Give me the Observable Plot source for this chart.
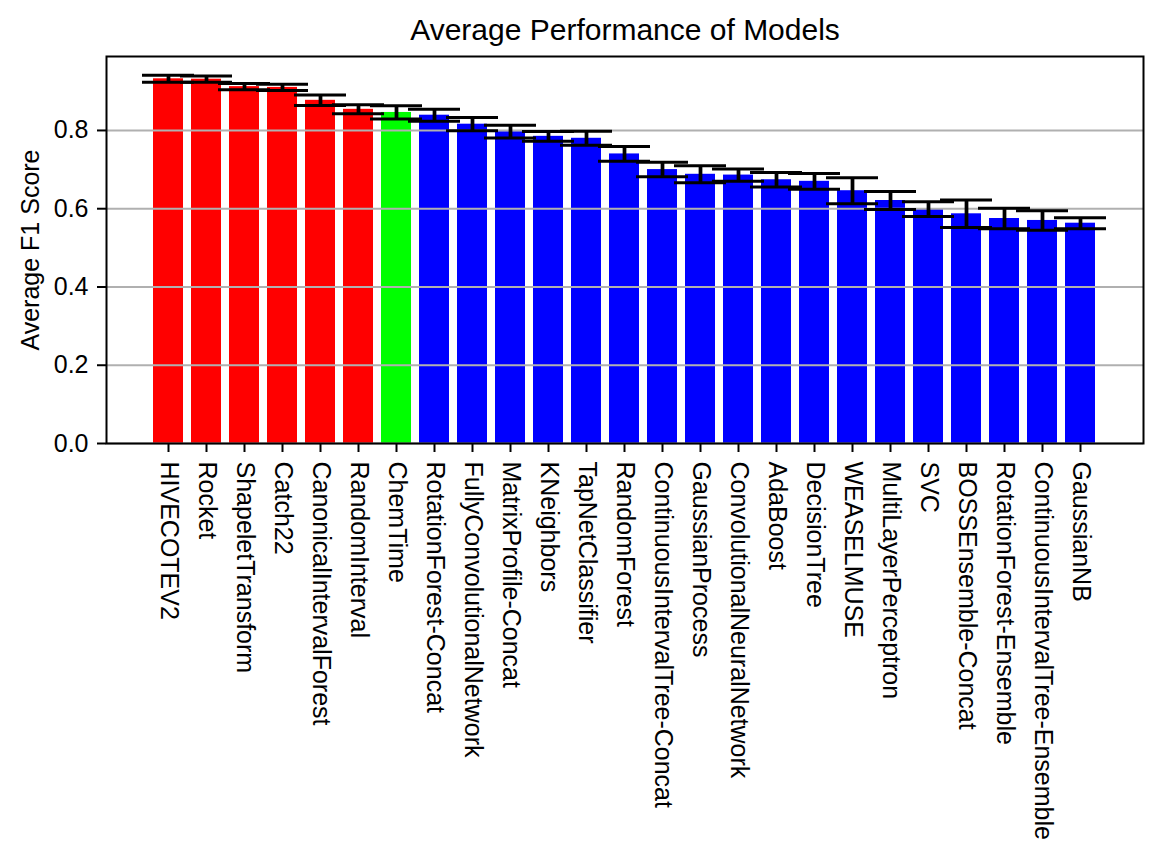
<!DOCTYPE html>
<html>
<head>
<meta charset="utf-8">
<script src="https://cdn.jsdelivr.net/npm/d3@7"></script>
<script src="https://cdn.jsdelivr.net/npm/@observablehq/plot@0.6"></script>
<style>
  html, body { margin: 0; padding: 0; background: #fff; }
  #chart { width: 1162px; height: 868px; }
</style>
</head>
<body>
<div id="chart"></div>
<script>
const models = ["HIVECOTEV2", "Rocket", "ShapeletTransform", "Catch22", "CanonicalIntervalForest", "RandomInterval", "ChemTime", "RotationForest-Concat", "FullyConvolutionalNetwork", "MatrixProfile-Concat", "KNeighbors", "TapNetClassifier", "RandomForest", "ContinuousIntervalTree-Concat", "GaussianProcess", "ConvolutionalNeuralNetwork", "AdaBoost", "DecisionTree", "WEASELMUSE", "MultiLayerPerceptron", "SVC", "BOSSEnsemble-Concat", "RotationForest-Ensemble", "ContinuousIntervalTree-Ensemble", "GaussianNB"];
const meanF1 = [0.932, 0.931, 0.912, 0.910, 0.877, 0.854, 0.846, 0.839, 0.816, 0.797, 0.785, 0.780, 0.740, 0.700, 0.688, 0.686, 0.674, 0.670, 0.646, 0.621, 0.599, 0.587, 0.575, 0.570, 0.563];
const errF1 = [0.009, 0.008, 0.008, 0.008, 0.0135, 0.0115, 0.017, 0.0155, 0.017, 0.016, 0.0125, 0.018, 0.019, 0.0185, 0.0215, 0.0155, 0.0185, 0.020, 0.033, 0.023, 0.019, 0.035, 0.026, 0.025, 0.014];
const groups = ["top", "top", "top", "top", "top", "top", "ours", "other", "other", "other", "other", "other", "other", "other", "other", "other", "other", "other", "other", "other", "other", "other", "other", "other", "other"];
const groupDomain = ["top", "ours", "other"];
const groupColors = ["#ff0000", "#00ff00", "#0000ff"];
const yTicks = [0, 0.2, 0.4, 0.6, 0.8];

const data = models.map((m, i) => ({name: m, mean: meanF1[i], err: errF1[i], group: groups[i]}));

const chart = Plot.plot({
  width: 1162,
  height: 868,
  marginLeft: 106,
  marginRight: 19,
  marginTop: 56,
  marginBottom: 425,
  style: {fontFamily: "'Liberation Sans', Arial, Helvetica, sans-serif", fontSize: "25px", color: "black", background: "white"},
  x: {type: "band", domain: models, paddingInner: 0.2, paddingOuter: 1.24, align: 0.5},
  y: {domain: [0, 0.989]},
  color: {domain: groupDomain, range: groupColors},
  marks: [
    Plot.barY(data, {x: "name", y: "mean", fill: "group"}),
    Plot.gridY(yTicks, {stroke: "#b0b0b0", strokeOpacity: 1, strokeWidth: 2}),
    Plot.ruleX(data, {x: "name", y1: d => d.mean - d.err, y2: d => d.mean + d.err, stroke: "black", strokeWidth: 3.75}),
    Plot.tickY(data, {x: "name", y: d => d.mean + d.err, stroke: "black", strokeWidth: 3, insetLeft: -11, insetRight: -11}),
    Plot.tickY(data, {x: "name", y: d => d.mean - d.err, stroke: "black", strokeWidth: 3, insetLeft: -11, insetRight: -11}),
    Plot.axisY({ticks: yTicks, tickFormat: d3.format(".1f"), tickSize: 9, tickPadding: 9, strokeWidth: 2, label: null, fontSize: 25}),
    Plot.axisX({tickRotate: 90, tickSize: 9, tickPadding: 9, strokeWidth: 2, label: null, fontSize: 25}),
    Plot.frame({stroke: "black", strokeWidth: 2}),
    Plot.text(["Average F1 Score"], {frameAnchor: "left", textAnchor: "middle", lineAnchor: "middle", rotate: -90, dx: -76, fontSize: 25, fill: "black"}),
    Plot.text(["Average Performance of Models"], {frameAnchor: "top", lineAnchor: "bottom", dy: -17, fontSize: 30, fill: "black"})
  ]
});
document.getElementById("chart").appendChild(chart);
</script>
</body>
</html>
